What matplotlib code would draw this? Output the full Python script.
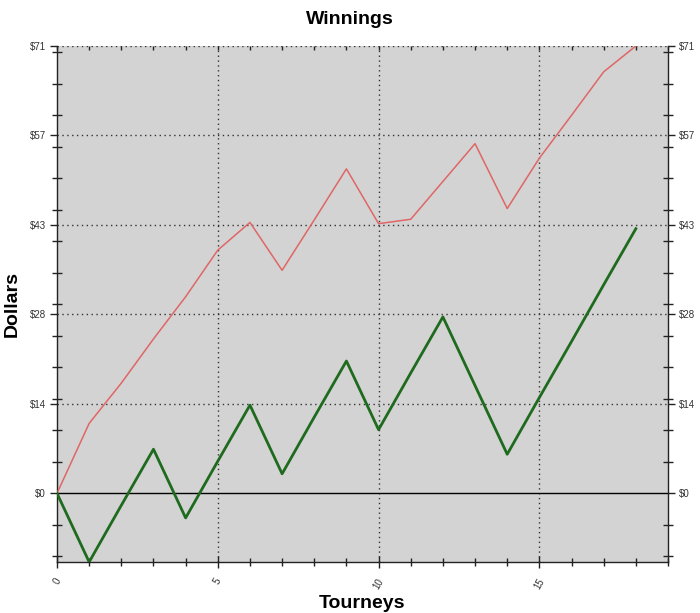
import numpy as np
import matplotlib
matplotlib.use('Agg')
import matplotlib.pyplot as plt
from matplotlib.ticker import MultipleLocator, FixedLocator, FuncFormatter

# Dados
tourneys = list(range(19))
total_won = [0, 11.1, 17.5, 24.5, 31.2, 38.6, 43.0, 35.4, 43.4, 51.5,
             42.8, 43.5, 49.5, 55.5, 45.2, 53.2, 60.0, 66.9, 71.0]
net = [0, -10.9, -1.9, 7.0, -3.9, 5.1, 14.0, 3.1, 12.1, 21.0,
       10.1, 19.1, 28.0, 17.1, 6.2, 15.2, 24.1, 33.1, 42.0]
x_labels = [0, 5, 10, 15]

plt.rcParams['font.family'] = ['Liberation Sans', 'DejaVu Sans']

fig = plt.figure(figsize=(7.0, 6.13), dpi=100)
ax = fig.add_axes([57/700, 1 - 562/613, (668 - 57)/700, (562 - 46)/613])
ax.set_facecolor('#d3d3d3')

ymax = max(total_won)
ymin = min(net)
ax.set_xlim(0, 19)
ax.set_ylim(ymin, ymax)

# linhas de grade pontilhadas
yticks = np.linspace(0, ymax, 6)
for v in yticks[1:]:
    ax.axhline(v, color='#333333', lw=1, ls=(0, (1, 2.5)), zorder=1)
for v in x_labels[1:]:
    ax.axvline(v, color='#333333', lw=1, ls=(0, (1, 2.5)), zorder=1)
ax.axhline(0, color='black', lw=1, zorder=2)

ax.plot(tourneys, total_won, color='#e06666', lw=1.1, zorder=3)
ax.plot(tourneys, net, color='#1e6b1e', lw=2, zorder=3)

# eixo y
ax.yaxis.set_major_locator(FixedLocator(yticks))
ax.yaxis.set_minor_locator(MultipleLocator(5))
ax.yaxis.set_major_formatter(FuncFormatter(lambda v, p: '$%d' % round(v)))
ax.tick_params(axis='y', which='major', direction='out', length=5, width=1,
               left=True, right=True, labelleft=True, labelright=True,
               labelsize=7, labelcolor='#333333', color='#222222', pad=3)
ax.tick_params(axis='y', which='minor', direction='inout', length=7, width=1,
               left=True, right=True, color='#222222')

# eixo x (embaixo)
ax.xaxis.set_major_locator(FixedLocator(x_labels))
ax.xaxis.set_minor_locator(MultipleLocator(1))
ax.tick_params(axis='x', which='major', direction='inout', length=9, width=1,
               top=False, bottom=True, labelsize=7, labelcolor='#333333',
               color='#222222', labelrotation=60, pad=6)
ax.tick_params(axis='x', which='minor', direction='inout', length=6, width=1,
               top=False, bottom=True, color='#222222')

# tracinhos pequenos no topo
topo = ax.secondary_xaxis('top')
topo.xaxis.set_major_locator(MultipleLocator(1))
topo.tick_params(axis='x', which='major', direction='in', length=3, width=1,
                 color='#222222', labeltop=False)
topo.spines['top'].set_visible(False)

for s in ['left', 'right', 'bottom']:
    ax.spines[s].set_color('#222222')
    ax.spines[s].set_linewidth(1)
ax.spines['top'].set_visible(False)

fig.text(0.5, 1 - 20/613, 'Winnings', ha='center', va='center',
         fontsize=14, fontweight='bold')
fig.text(12/700, 1 - 304/613, 'Dollars', ha='center', va='center',
         rotation=90, fontsize=14, fontweight='bold')
fig.text(362/700, 1 - 603/613, 'Tourneys', ha='center', va='center',
         fontsize=14, fontweight='bold')

fig.savefig('out.png', dpi=100, facecolor='white')
